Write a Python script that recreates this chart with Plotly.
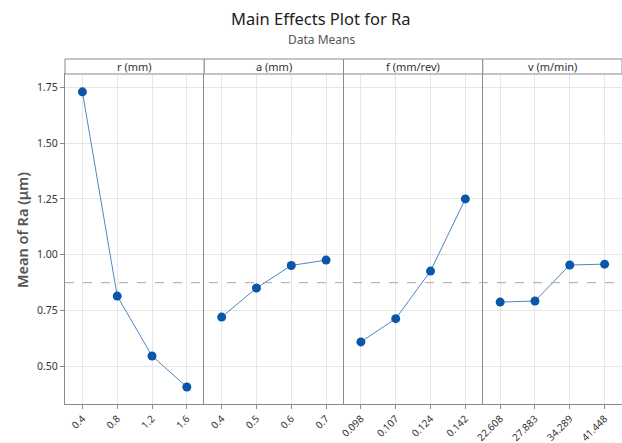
import plotly.graph_objects as go
from plotly.subplots import make_subplots

# ---- data ----
factors = ["r (mm)", "a (mm)", "f (mm/rev)", "v (m/min)"]
r_levels = ["0.4", "0.8", "1.2", "1.6"]
r_means = [1.729, 0.815, 0.547, 0.408]
a_levels = ["0.4", "0.5", "0.6", "0.7"]
a_means = [0.721, 0.851, 0.952, 0.976]
f_levels = ["0.098", "0.107", "0.124", "0.142"]
f_means = [0.610, 0.714, 0.927, 1.250]
v_levels = ["22.608", "27.883", "34.289", "41.448"]
v_means = [0.788, 0.793, 0.954, 0.958]
grand_mean = 0.875
y_ticks = [0.50, 0.75, 1.00, 1.25, 1.50, 1.75]

levels = [r_levels, a_levels, f_levels, v_levels]
means = [r_means, a_means, f_means, v_means]

W, H = 622, 443
ML, MR, MT, MB = 65, 0, 74, 39
PW = W - ML - MR
PH = H - MT - MB
FONT = "Noto Sans"

fig = make_subplots(rows=1, cols=4, shared_yaxes=True, horizontal_spacing=0)

for i, (lv, mv) in enumerate(zip(levels, means)):
    fig.add_trace(go.Scatter(
        x=lv, y=mv, mode="lines+markers",
        line=dict(color="#4f86c6", width=1),
        marker=dict(color="#0a56a8", size=9),
        showlegend=False, hoverinfo="x+y"),
        row=1, col=i + 1)
    fig.update_xaxes(
        type="category", range=[-0.5, 3.5], automargin=False,
        showgrid=True, gridcolor="#e6e6e6", gridwidth=1,
        showline=True, linecolor="#8a8a8a", linewidth=1, mirror=True,
        ticks="outside", ticklen=4, tickcolor="#8a8a8a",
        tickangle=-45, tickfont=dict(family=FONT, size=10, color="#333"),
        zeroline=False, row=1, col=i + 1)
    fig.update_yaxes(
        range=[0.332, 1.809], automargin=False,
        tickvals=y_ticks, ticktext=[f"{t:.2f}" for t in y_ticks],
        showgrid=True, gridcolor="#e6e6e6", gridwidth=1,
        showline=True, linecolor="#8a8a8a", linewidth=1, mirror=(i == 3),
        zeroline=False, row=1, col=i + 1)

fig.update_yaxes(ticks="outside", ticklen=4, tickcolor="#8a8a8a",
                 tickfont=dict(family=FONT, size=10.5, color="#333"), row=1, col=1)

# grand mean reference line
fig.add_shape(type="line", xref="paper", yref="y", x0=0, x1=1,
              y0=grand_mean, y1=grand_mean,
              line=dict(color="#a8a8a8", width=1, dash="dash"), layer="above")

# header strips
hdr = 15 / PH
for i, name in enumerate(factors):
    x0, x1 = i / 4, (i + 1) / 4
    fig.add_shape(type="rect", xref="paper", yref="paper",
                  x0=x0, x1=x1, y0=1, y1=1 + hdr,
                  line=dict(color="#8a8a8a", width=1), fillcolor="white")
    fig.add_annotation(xref="paper", yref="paper", x=(x0 + x1) / 2, y=1 + hdr / 2,
                       text=name, showarrow=False, xanchor="center", yanchor="middle",
                       font=dict(family=FONT, size=11, color="#333"))

# titles
def px_x(px):
    return (px - ML) / PW

def px_y(py):
    return (H - MB - py) / PH

fig.add_annotation(xref="paper", yref="paper", x=px_x(321), y=px_y(19),
                   text="Main Effects Plot for Ra", showarrow=False,
                   xanchor="center", yanchor="middle",
                   font=dict(family=FONT, size=16.5, color="#222"))
fig.add_annotation(xref="paper", yref="paper", x=px_x(321), y=px_y(39),
                   text="Data Means", showarrow=False,
                   xanchor="center", yanchor="middle",
                   font=dict(family=FONT, size=12, color="#555"))
fig.add_annotation(xref="paper", yref="paper", x=px_x(22), y=px_y(230),
                   text="Mean of Ra (μm)", showarrow=False, textangle=-90,
                   xanchor="center", yanchor="middle",
                   font=dict(family=FONT, size=14.5, color="#555", weight=600))

fig.update_layout(
    width=W, height=H,
    margin=dict(l=ML, r=MR, t=MT, b=MB, autoexpand=False),
    paper_bgcolor="white", plot_bgcolor="white",
    font=dict(family=FONT),
)

fig.write_html("out.html", config={"displayModeBar": False},
               post_script="document.body.style.margin='0';document.body.style.overflow='hidden';")
